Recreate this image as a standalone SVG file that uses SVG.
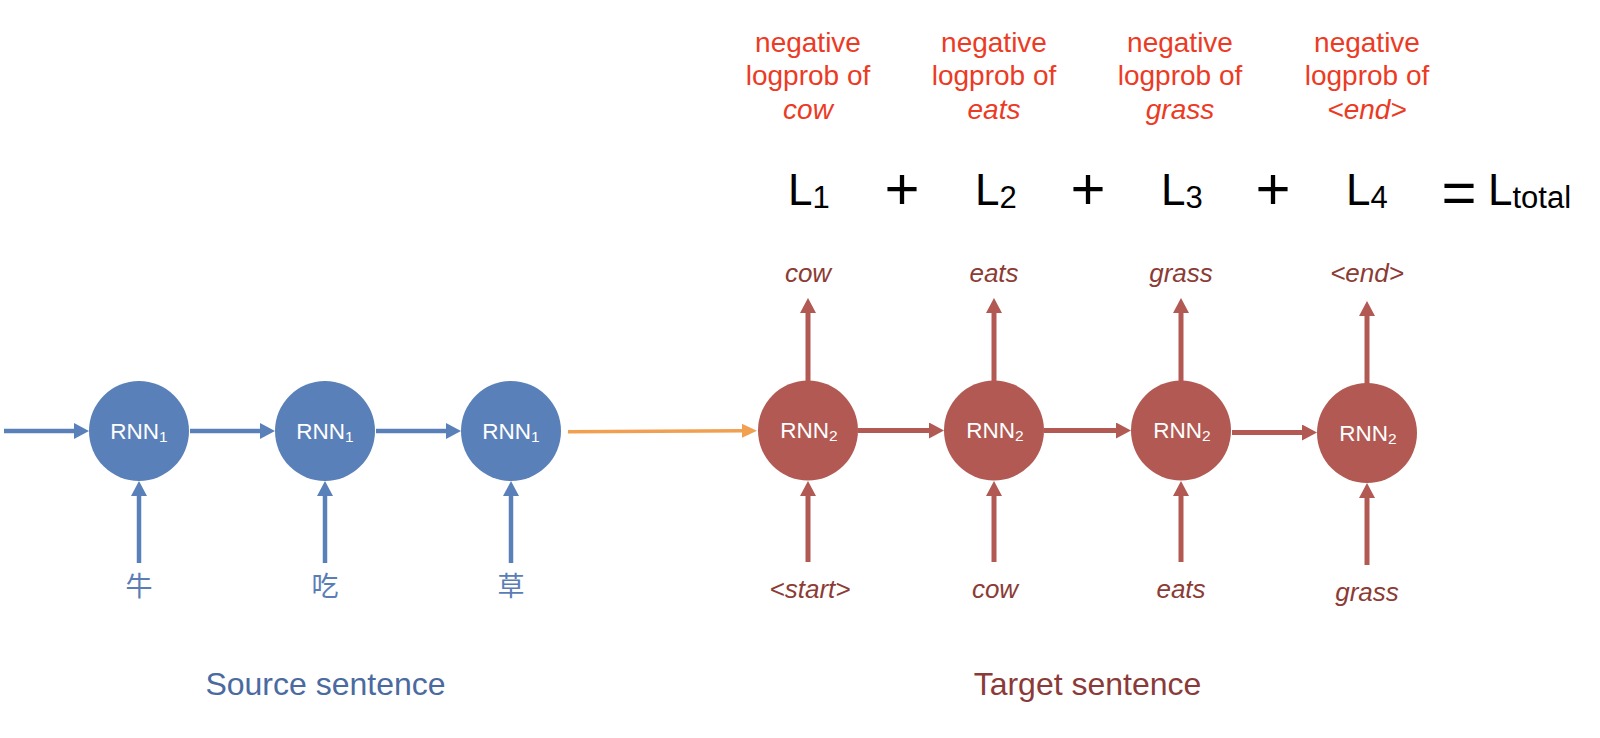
<svg xmlns="http://www.w3.org/2000/svg" width="1600" height="738" viewBox="0 0 1600 738">
<defs>
<style>
text{font-family:"Liberation Sans",Arial,Helvetica,sans-serif}
.cjk{font-family:"Liberation Sans","Noto Sans CJK SC",sans-serif;font-size:27px;fill:#5a7db6;text-anchor:middle}
.blue{fill:#5a80ba}
.red{fill:#b15952}
.node-t{fill:#fff;font-size:22.5px;text-anchor:middle}
.node-t tspan{font-size:15.5px}
.bl{stroke:#5a80ba;stroke-width:4.5;fill:none}
.rl{stroke:#b15952;stroke-width:5;fill:none}
.ol{stroke:#f0a050;stroke-width:3.5;fill:none}
.neg{fill:#ec3b25;font-size:28px;text-anchor:middle}
.word{fill:#8c3b35;font-size:26px;font-style:italic;text-anchor:middle}
.L{fill:#000;font-size:44px}
.L tspan{font-size:31px}
.op{fill:#000;font-size:60px;text-anchor:middle}
.cap{font-size:32px;text-anchor:middle}
</style>
<marker id="ab" viewBox="0 0 15 16" markerWidth="15" markerHeight="16" refX="2" refY="8" orient="auto" markerUnits="userSpaceOnUse"><path d="M0,0 L15,8 L0,16 z" fill="#5a80ba"/></marker>
<marker id="ar" viewBox="0 0 15 16" markerWidth="15" markerHeight="16" refX="2" refY="8" orient="auto" markerUnits="userSpaceOnUse"><path d="M0,0 L15,8 L0,16 z" fill="#b15952"/></marker>
<marker id="ao" viewBox="0 0 15 14" markerWidth="15" markerHeight="14" refX="2" refY="7" orient="auto" markerUnits="userSpaceOnUse"><path d="M0,0 L15,7 L0,14 z" fill="#f0a050"/></marker>
</defs>
<rect width="1600" height="738" fill="#fff"/>

<g id="connectors">
<line class="bl" x1="4" y1="431" x2="76" y2="431" marker-end="url(#ab)"/>
<line class="bl" x1="190" y1="431" x2="262" y2="431" marker-end="url(#ab)"/>
<line class="bl" x1="376" y1="431" x2="448" y2="431" marker-end="url(#ab)"/>
<line class="bl" x1="139" y1="563" x2="139" y2="494" marker-end="url(#ab)"/>
<line class="bl" x1="325" y1="563" x2="325" y2="494" marker-end="url(#ab)"/>
<line class="bl" x1="511" y1="563" x2="511" y2="494" marker-end="url(#ab)"/>
<line class="ol" x1="568" y1="431.7" x2="744" y2="430.8" marker-end="url(#ao)"/>
<line class="rl" x1="858" y1="430.5" x2="931" y2="430.5" marker-end="url(#ar)"/>
<line class="rl" x1="1044" y1="430.5" x2="1118" y2="430.5" marker-end="url(#ar)"/>
<line class="rl" x1="1232" y1="432.5" x2="1304" y2="432.5" marker-end="url(#ar)"/>
<line class="rl" x1="808" y1="562" x2="808" y2="494" marker-end="url(#ar)"/>
<line class="rl" x1="994" y1="562" x2="994" y2="494" marker-end="url(#ar)"/>
<line class="rl" x1="1181" y1="562" x2="1181" y2="494" marker-end="url(#ar)"/>
<line class="rl" x1="1367" y1="565" x2="1367" y2="496" marker-end="url(#ar)"/>
<line class="rl" x1="808" y1="381" x2="808" y2="311" marker-end="url(#ar)"/>
<line class="rl" x1="994" y1="381" x2="994" y2="311" marker-end="url(#ar)"/>
<line class="rl" x1="1181" y1="381" x2="1181" y2="311" marker-end="url(#ar)"/>
<line class="rl" x1="1367" y1="384" x2="1367" y2="314" marker-end="url(#ar)"/>
</g>

<g id="enc1"><circle class="blue" cx="139" cy="431" r="50"/><text class="node-t" x="139" y="438.5">RNN<tspan dy="3">1</tspan></text></g>
<g id="enc2"><circle class="blue" cx="325" cy="431" r="50"/><text class="node-t" x="325" y="438.5">RNN<tspan dy="3">1</tspan></text></g>
<g id="enc3"><circle class="blue" cx="511" cy="431" r="50"/><text class="node-t" x="511" y="438.5">RNN<tspan dy="3">1</tspan></text></g>

<g id="dec1"><circle class="red" cx="808" cy="430.5" r="50"/><text class="node-t" x="809" y="438">RNN<tspan dy="3">2</tspan></text></g>
<g id="dec2"><circle class="red" cx="994" cy="430.5" r="50"/><text class="node-t" x="995" y="438">RNN<tspan dy="3">2</tspan></text></g>
<g id="dec3"><circle class="red" cx="1181" cy="430.5" r="50"/><text class="node-t" x="1182" y="438">RNN<tspan dy="3">2</tspan></text></g>
<g id="dec4"><circle class="red" cx="1367" cy="433" r="50"/><text class="node-t" x="1368" y="440.5">RNN<tspan dy="3">2</tspan></text></g>

<g id="src-words">
<text class="cjk" x="139" y="596">牛</text>
<text class="cjk" x="325" y="596">吃</text>
<text class="cjk" x="511" y="596">草</text>
</g>

<g id="tgt-inputs">
<text class="word" x="810" y="598">&lt;start&gt;</text>
<text class="word" x="995" y="598">cow</text>
<text class="word" x="1181" y="598">eats</text>
<text class="word" x="1367" y="601">grass</text>
</g>

<g id="tgt-outputs">
<text class="word" x="808" y="282">cow</text>
<text class="word" x="994" y="282">eats</text>
<text class="word" x="1181" y="282">grass</text>
<text class="word" x="1367" y="282">&lt;end&gt;</text>
</g>

<g id="loss-labels">
<text class="neg" x="808" y="51.5">negative</text>
<text class="neg" x="808" y="85">logprob of</text>
<text class="neg" x="808" y="118.5" font-style="italic">cow</text>
<text class="neg" x="994" y="51.5">negative</text>
<text class="neg" x="994" y="85">logprob of</text>
<text class="neg" x="994" y="118.5" font-style="italic">eats</text>
<text class="neg" x="1180" y="51.5">negative</text>
<text class="neg" x="1180" y="85">logprob of</text>
<text class="neg" x="1180" y="118.5" font-style="italic">grass</text>
<text class="neg" x="1367" y="51.5">negative</text>
<text class="neg" x="1367" y="85">logprob of</text>
<text class="neg" x="1367" y="118.5" font-style="italic">&lt;end&gt;</text>
</g>

<g id="loss-sum">
<text class="L" x="788" y="205">L<tspan dy="3">1</tspan></text>
<text class="op" x="902" y="209">+</text>
<text class="L" x="975" y="205">L<tspan dy="3">2</tspan></text>
<text class="op" x="1088" y="209">+</text>
<text class="L" x="1161" y="205">L<tspan dy="3">3</tspan></text>
<text class="op" x="1273" y="209">+</text>
<text class="L" x="1346" y="205">L<tspan dy="3">4</tspan></text>
<text class="op" x="1459" y="213">=</text>
<text class="L" x="1488" y="205">L<tspan dy="3">total</tspan></text>
</g>

<g id="captions">
<text class="cap" x="325.5" y="695" fill="#4a6aa0">Source sentence</text>
<text class="cap" x="1087.5" y="695" fill="#8b3a3a">Target sentence</text>
</g>
</svg>
